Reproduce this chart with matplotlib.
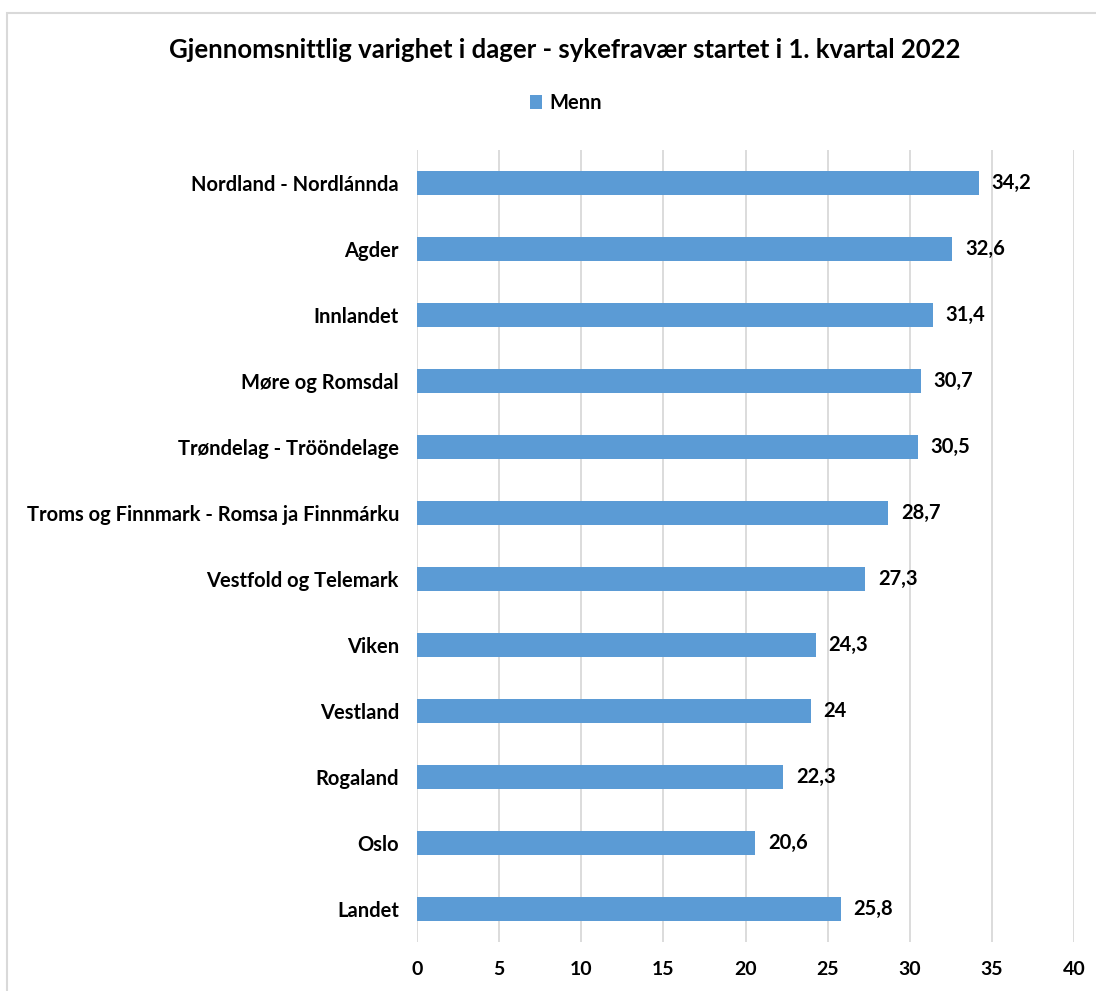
import matplotlib.pyplot as plt
from matplotlib.patches import Rectangle
import numpy as np

plt.rcParams['font.family'] = ['Lato', 'DejaVu Sans']
plt.rcParams['font.weight'] = 'bold'

regions = ['Nordland - Nordlánnda', 'Agder', 'Innlandet', 'Møre og Romsdal',
           'Trøndelag - Trööndelage', 'Troms og Finnmark - Romsa ja Finnmárku',
           'Vestfold og Telemark', 'Viken', 'Vestland', 'Rogaland', 'Oslo', 'Landet']
menn = [34.2, 32.6, 31.4, 30.7, 30.5, 28.7, 27.3, 24.3, 24.0, 22.3, 20.6, 25.8]
xticks = [0, 5, 10, 15, 20, 25, 30, 35, 40]

bar_color = '#5b9bd5'
grid_color = '#d9d9d9'

fig = plt.figure(figsize=(10.96, 9.91), dpi=100)
ax = fig.add_axes([417/1096, 1-942/991, (1074-417)/1096, (942-150)/991])

y = np.arange(len(regions))
ax.barh(y, menn, height=0.36, color=bar_color, label='Menn', zorder=3)
ax.set_ylim(len(regions)-0.5, -0.5)
ax.set_xlim(0, 40)
ax.set_xticks(xticks)
ax.set_xticklabels([str(t) for t in xticks], fontsize=14, fontweight='bold')
ax.set_yticks(y)
ax.set_yticklabels(regions, fontsize=14.5, fontweight='bold')
ax.tick_params(axis='both', length=0, colors='#000000')
ax.tick_params(axis='x', pad=14)
ax.tick_params(axis='y', pad=13)
ax.grid(axis='x', color=grid_color, linewidth=1.3, zorder=0)
for s in ax.spines.values():
    s.set_visible(False)

for yi, v in zip(y, menn):
    lbl = ('%g' % v).replace('.', ',')
    ax.annotate(lbl, (v, yi), xytext=(9, 0), textcoords='offset points',
                va='center', ha='left', fontsize=14.5, fontweight='bold')

fig.text(0.515, 1-50/991, 'Gjennomsnittlig varighet i dager - sykefravær startet i 1. kvartal 2022',
         ha='center', va='center', fontsize=18.5, fontweight='bold')
fig.legend(loc='center', bbox_to_anchor=(566/1096, 1-103/991), frameon=False,
           handlelength=0.6, handleheight=0.7, handletextpad=0.4,
           prop={'weight': 'bold', 'size': 14.5})

fig.patches.append(Rectangle((7/1096, -0.1), 1.2, 1-13/991+0.1, transform=fig.transFigure,
                             fill=False, edgecolor=grid_color, linewidth=1.5))

fig.savefig('out.png', dpi=100)
